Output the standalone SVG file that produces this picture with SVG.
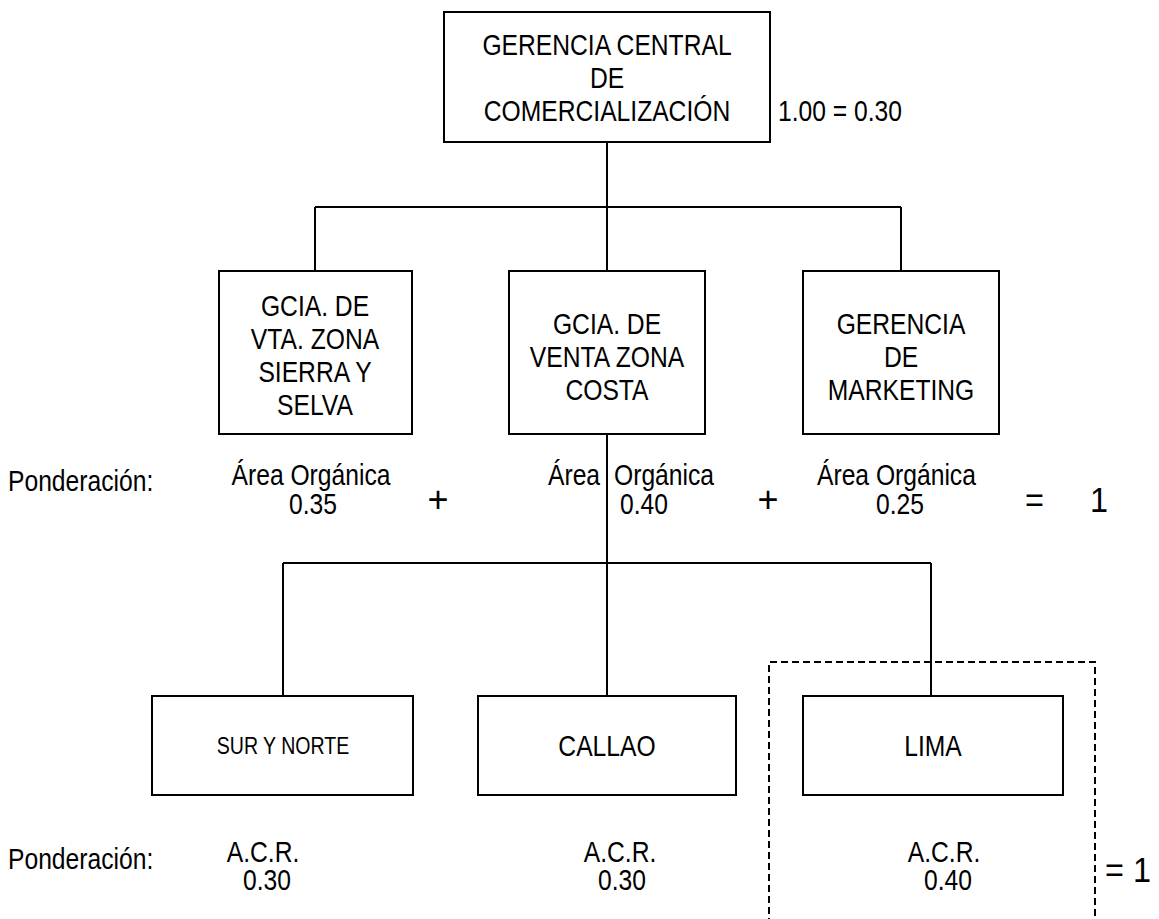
<svg xmlns="http://www.w3.org/2000/svg" width="1159" height="919" viewBox="0 0 1159 919">
  <style>
    .box { fill: #ffffff; stroke: #000000; stroke-width: 2; }
    .wire { fill: none; stroke: #000000; stroke-width: 2; }
    .dash { fill: none; stroke: #000000; stroke-width: 2; stroke-dasharray: 7 4; }
    text { font-family: "Liberation Sans", Arial, sans-serif; font-size: 29px; fill: #000000; }
    .c { text-anchor: middle; }
    .small { font-size: 23px; }
    .big { font-size: 36px; }
  </style>
  <rect width="1159" height="919" fill="#ffffff"/>

  <!-- connectors -->
  <g id="connectors">
    <path class="wire" d="M607 142 V207 M315 207 H901 M315 207 V271 M607 207 V271 M901 207 V271"/>
    <path class="wire" d="M607 434 V563 M283 563 H931 M283 563 V696 M607 563 V696 M931 563 V696"/>
  </g>

  <!-- all labels use a slightly condensed face: matrix(.85 0 0 1 x y) -->
  <g id="gerencia-central">
    <rect class="box" x="444" y="12" width="326" height="130"/>
    <text class="c" transform="matrix(.85 0 0 1 607 55)">GERENCIA CENTRAL</text>
    <text class="c" transform="matrix(.85 0 0 1 607 88)">DE</text>
    <text class="c" transform="matrix(.85 0 0 1 607 121)">COMERCIALIZACIÓN</text>
  </g>
  <text transform="matrix(.85 0 0 1 778 121)">1.00 = 0.30</text>

  <g id="gcia-sierra-selva">
    <rect class="box" x="219" y="271" width="193" height="163"/>
    <text class="c" transform="matrix(.85 0 0 1 315 316)">GCIA. DE</text>
    <text class="c" transform="matrix(.85 0 0 1 315 349)">VTA. ZONA</text>
    <text class="c" transform="matrix(.85 0 0 1 315 382)">SIERRA Y</text>
    <text class="c" transform="matrix(.85 0 0 1 315 415)">SELVA</text>
  </g>

  <g id="gcia-costa">
    <rect class="box" x="509" y="271" width="196" height="163"/>
    <text class="c" transform="matrix(.85 0 0 1 607 334)">GCIA. DE</text>
    <text class="c" transform="matrix(.85 0 0 1 607 367)">VENTA ZONA</text>
    <text class="c" transform="matrix(.85 0 0 1 607 400)">COSTA</text>
  </g>

  <g id="gerencia-marketing">
    <rect class="box" x="803" y="271" width="196" height="163"/>
    <text class="c" transform="matrix(.85 0 0 1 901 334)">GERENCIA</text>
    <text class="c" transform="matrix(.85 0 0 1 901 367)">DE</text>
    <text class="c" transform="matrix(.85 0 0 1 901 400)">MARKETING</text>
  </g>

  <!-- weights of the organic areas -->
  <g id="ponderacion-areas">
    <text transform="matrix(.85 0 0 1 8 491)">Ponderación:</text>
    <text class="c" transform="matrix(.85 0 0 1 311 485)">Área Orgánica</text>
    <text class="c" transform="matrix(.85 0 0 1 313 514)">0.35</text>
    <text class="big c" x="438" y="512">+</text>
    <text transform="matrix(.85 0 0 1 548 485)">Área</text>
    <text transform="matrix(.85 0 0 1 614 485)">Orgánica</text>
    <text transform="matrix(.85 0 0 1 620 514)">0.40</text>
    <text class="big c" x="768" y="512">+</text>
    <text transform="matrix(.85 0 0 1 817 485)">Área Orgánica</text>
    <text class="c" transform="matrix(.85 0 0 1 900 514)">0.25</text>
    <text class="big" transform="matrix(.9 0 0 1 1025 512)">=</text>
    <text class="big" transform="matrix(.9 0 0 1 1090 512)">1</text>
  </g>

  <g id="sur-norte">
    <rect class="box" x="152" y="696" width="261" height="99"/>
    <text class="small c" transform="matrix(.85 0 0 1 283 754)">SUR Y NORTE</text>
  </g>

  <g id="callao">
    <rect class="box" x="478" y="696" width="258" height="99"/>
    <text class="c" transform="matrix(.85 0 0 1 607 756)">CALLAO</text>
  </g>

  <g id="lima">
    <rect class="box" x="803" y="696" width="260" height="99"/>
    <text class="c" transform="matrix(.85 0 0 1 933 756)">LIMA</text>
  </g>

  <!-- dashed frame around Lima -->
  <path class="dash" d="M769 925 V662 H1095 V925"/>

  <!-- weights of the regional areas -->
  <g id="ponderacion-acr">
    <text transform="matrix(.85 0 0 1 8 869)">Ponderación:</text>
    <text class="c" transform="matrix(.85 0 0 1 263 862)">A.C.R.</text>
    <text class="c" transform="matrix(.85 0 0 1 267 890)">0.30</text>
    <text class="c" transform="matrix(.85 0 0 1 620 862)">A.C.R.</text>
    <text class="c" transform="matrix(.85 0 0 1 622 890)">0.30</text>
    <text class="c" transform="matrix(.85 0 0 1 944 862)">A.C.R.</text>
    <text class="c" transform="matrix(.85 0 0 1 948 890)">0.40</text>
    <text class="big" transform="matrix(.9 0 0 1 1105 882)">= 1</text>
  </g>
</svg>
